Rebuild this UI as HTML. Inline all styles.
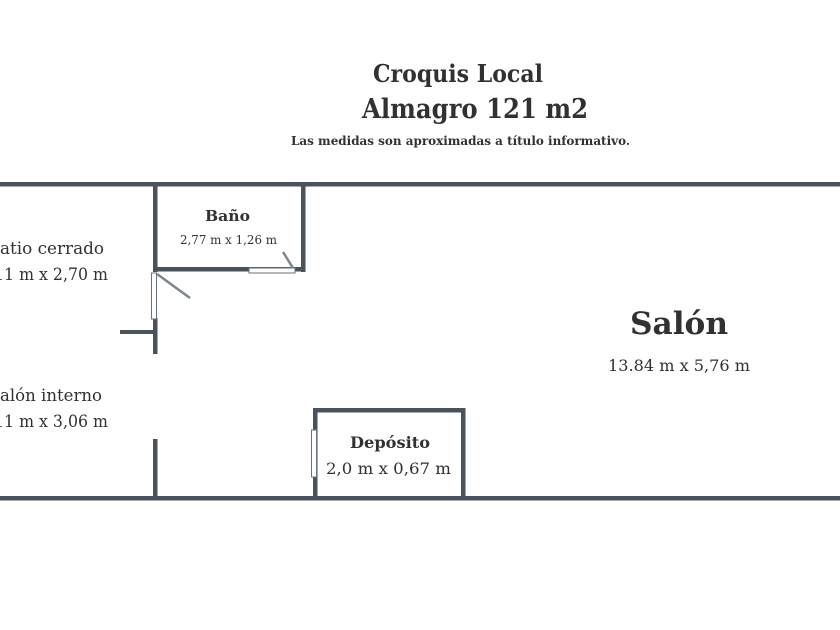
<!DOCTYPE html>
<html><head><meta charset="utf-8"><style>
html,body{margin:0;padding:0;background:#fff;width:840px;height:630px;overflow:hidden}
text{font-family:"DejaVu Serif","Liberation Serif",serif;fill:#2f3133}
</style></head><body>
<svg width="840" height="630" viewBox="0 0 840 630" xmlns="http://www.w3.org/2000/svg">
<rect width="840" height="630" fill="#fff"/>
<g fill="#4a525c">
<rect x="0" y="182" width="840" height="4.5"/>
<rect x="0" y="496" width="840" height="4.5"/>
<rect x="153" y="182" width="4.5" height="90"/>
<rect x="301" y="182" width="4.5" height="90"/>
<rect x="153" y="267" width="152" height="4.5"/>
<rect x="153" y="318" width="4.5" height="36"/>
<rect x="120" y="330" width="36" height="4"/>
<rect x="153" y="439" width="4.5" height="60"/>
<rect x="313" y="408" width="4.5" height="91"/>
<rect x="461" y="408" width="4.5" height="91"/>
<rect x="313" y="408" width="152" height="4.5"/>
</g>
<rect x="249" y="268" width="46" height="5" fill="#fff" stroke="#6a727b" stroke-width="1"/>
<line x1="283" y1="252" x2="293" y2="268" stroke="#7d858d" stroke-width="2.5"/>
<rect x="151.5" y="273" width="5" height="46" fill="#fff" stroke="#6a727b" stroke-width="1"/>
<line x1="157" y1="274" x2="190" y2="298" stroke="#7d858d" stroke-width="2.5"/>
<rect x="311.5" y="430" width="5" height="47" fill="#fff" stroke="#6a727b" stroke-width="1"/>
<text x="373" y="82" font-size="24" font-weight="bold" textLength="170" lengthAdjust="spacingAndGlyphs">Croquis Local</text>
<text x="362" y="118" font-size="27" font-weight="bold" textLength="226" lengthAdjust="spacingAndGlyphs">Almagro  121 m2</text>
<text x="291" y="145" font-size="12" font-weight="bold" textLength="339" lengthAdjust="spacingAndGlyphs">Las medidas son aproximadas a título informativo.</text>
<text x="205" y="221" font-size="15" font-weight="bold" textLength="45" lengthAdjust="spacingAndGlyphs">Baño</text>
<text x="180" y="244" font-size="12" textLength="97" lengthAdjust="spacingAndGlyphs">2,77 m x 1,26 m</text>
<text x="0" y="254" font-size="17" textLength="104" lengthAdjust="spacingAndGlyphs">atio cerrado</text>
<text x="-6" y="280" font-size="17" textLength="114" lengthAdjust="spacingAndGlyphs">11 m x 2,70 m</text>
<text x="0" y="401" font-size="17" textLength="102" lengthAdjust="spacingAndGlyphs">alón interno</text>
<text x="-6" y="427" font-size="17" textLength="114" lengthAdjust="spacingAndGlyphs">11 m x 3,06 m</text>
<text x="630" y="334" font-size="31" font-weight="bold" textLength="98" lengthAdjust="spacingAndGlyphs">Salón</text>
<text x="608" y="371" font-size="16" textLength="142" lengthAdjust="spacingAndGlyphs">13.84 m x 5,76 m</text>
<text x="350" y="448" font-size="16" font-weight="bold" textLength="80" lengthAdjust="spacingAndGlyphs">Depósito</text>
<text x="326" y="474" font-size="16" textLength="125" lengthAdjust="spacingAndGlyphs">2,0 m x 0,67 m</text>
</svg>
</body></html>
